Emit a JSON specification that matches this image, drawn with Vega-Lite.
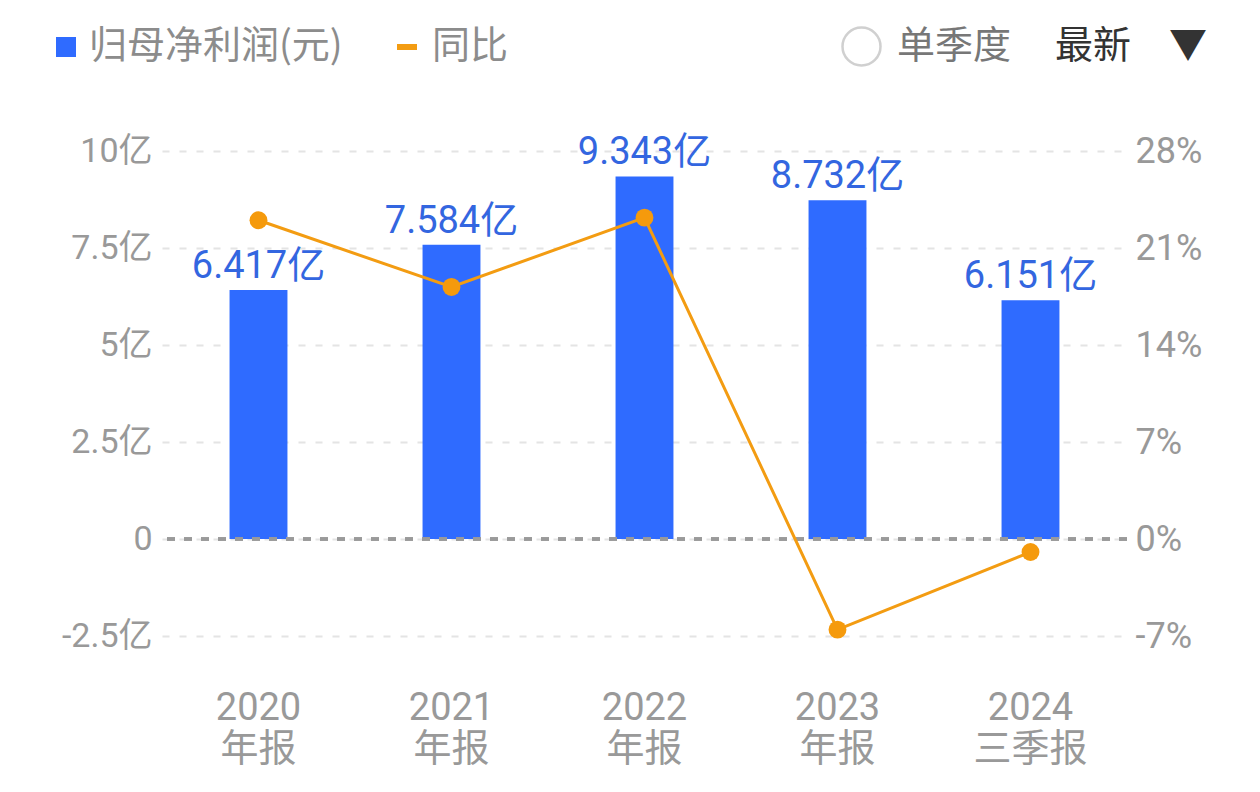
{
  "$schema": "https://vega.github.io/schema/vega-lite/v6.json",
  "width": 965,
  "height": 485,
  "autosize": "none",
  "padding": {"left": 162, "top": 151, "right": 133, "bottom": 156},
  "background": "white",
  "config": {
    "font": "Roboto, Noto Sans CJK SC",
    "view": {"stroke": null},
    "legend": {"padding": 0, "labelLimit": 500}
  },
  "title": {
    "text": "最新　▼",
    "anchor": "end",
    "orient": "top",
    "frame": "group",
    "dx": 80,
    "offset": -40,
    "fontSize": 38,
    "fontWeight": "normal",
    "color": "#333333",
    "font": "Noto Sans CJK SC"
  },
  "data": {
    "values": [
      {"period": "2020年报", "profit": 6.417, "yoy": 23.0},
      {"period": "2021年报", "profit": 7.584, "yoy": 18.19},
      {"period": "2022年报", "profit": 9.343, "yoy": 23.19},
      {"period": "2023年报", "profit": 8.732, "yoy": -6.54},
      {"period": "2024三季报", "profit": 6.151, "yoy": -0.94}
    ]
  },
  "layer": [
    {
      "layer": [
        {
          "mark": {"type": "bar", "color": "#2F6BFF"},
          "encoding": {
            "x": {
              "field": "period",
              "type": "ordinal",
              "sort": null,
              "scale": {"paddingInner": 0.7, "paddingOuter": 0.35},
              "axis": {
                "title": null,
                "domain": false,
                "ticks": false,
                "labelAngle": 0,
                "labelExpr": "[slice(datum.label, 0, 4), slice(datum.label, 4)]",
                "labelFontSize": 38,
                "labelLineHeight": 41,
                "labelColor": "#999999",
                "labelPadding": 53,
                "labelFont": "Roboto, Noto Sans CJK SC"
              }
            },
            "y": {
              "field": "profit",
              "type": "quantitative",
              "scale": {"domain": [-2.5, 10], "nice": false, "zero": false},
              "axis": {
                "title": null,
                "domain": false,
                "ticks": false,
                "values": [-2.5, 0, 2.5, 5, 7.5, 10],
                "labelExpr": "datum.value == 0 ? '0' : datum.value + '亿'",
                "labelFontSize": 34,
                "labelColor": "#999999",
                "labelPadding": 10,
                "grid": true,
                "gridColor": "#e4e4e4",
                "gridWidth": 2,
                "gridDash": [7, 10]
              }
            },
            "fill": {
              "datum": "归母净利润(元)",
              "type": "nominal",
              "scale": {"range": ["#2F6BFF"]},
              "legend": {
                "title": null,
                "orient": "none",
                "legendX": -115,
                "legendY": -123,
                "direction": "horizontal",
                "symbolType": "square",
                "symbolSize": 400,
                "symbolStrokeWidth": 0,
                "labelFontSize": 38,
                "labelColor": "#8c8c8c",
                "labelFont": "Noto Sans CJK SC",
                "labelOffset": 4
              }
            }
          }
        },
        {
          "transform": [{"calculate": "format(datum.profit, '.3f') + '亿'", "as": "lbl"}],
          "mark": {"type": "text", "dy": -12, "baseline": "alphabetic", "fontSize": 38, "color": "#3366E0"},
          "encoding": {
            "x": {"field": "period", "type": "ordinal", "sort": null},
            "y": {"field": "profit", "type": "quantitative"},
            "text": {"field": "lbl", "type": "nominal"}
          }
        },
        {
          "mark": {"type": "rule", "color": "#9a9a9a", "strokeWidth": 3, "strokeDash": [8, 9]},
          "encoding": {"y": {"datum": 0}}
        },
        {
          "mark": {"type": "point", "opacity": 0, "color": "#d0d0d0", "strokeWidth": 2.5},
          "encoding": {
            "x": {"field": "period", "type": "ordinal", "sort": null},
            "y": {"field": "profit", "type": "quantitative"},
            "shape": {
              "datum": "单季度",
              "type": "nominal",
              "scale": {"range": ["circle"]},
              "legend": {
                "title": null,
                "orient": "none",
                "legendX": 679,
                "legendY": -125,
                "symbolSize": 1444,
                "symbolStrokeColor": "#d0d0d0",
                "symbolFillColor": "white",
                "symbolStrokeWidth": 2.5,
                "labelFontSize": 38,
                "labelColor": "#777777",
                "labelFont": "Noto Sans CJK SC",
                "labelOffset": 15,
                "encode": {
                  "symbols": {
                    "update": {
                      "opacity": {"value": 1},
                      "fill": {"value": "white"},
                      "fillOpacity": {"value": 1},
                      "stroke": {"value": "#d0d0d0"},
                      "strokeWidth": {"value": 2.5}
                    }
                  }
                }
              }
            }
          }
        }
      ]
    },
    {
      "layer": [
        {
          "mark": {"type": "line", "strokeWidth": 3},
          "encoding": {
            "x": {"field": "period", "type": "ordinal", "sort": null},
            "y": {
              "field": "yoy",
              "type": "quantitative",
              "scale": {"domain": [-7, 28], "nice": false, "zero": false},
              "axis": {
                "orient": "right",
                "title": null,
                "domain": false,
                "ticks": false,
                "grid": false,
                "values": [-7, 0, 7, 14, 21, 28],
                "labelExpr": "datum.value + '%'",
                "labelFontSize": 36,
                "labelColor": "#999999",
                "labelPadding": 8
              }
            },
            "stroke": {
              "datum": "同比",
              "type": "nominal",
              "scale": {"range": ["#F39C12"]},
              "legend": {
                "title": null,
                "orient": "none",
                "legendX": 226,
                "legendY": -123,
                "symbolType": "stroke",
                "symbolSize": 400,
                "symbolStrokeWidth": 6,
                "labelFontSize": 38,
                "labelColor": "#8c8c8c",
                "labelFont": "Noto Sans CJK SC",
                "labelOffset": 6
              }
            }
          }
        },
        {
          "mark": {"type": "point", "filled": true, "size": 320, "color": "#F59A0C", "opacity": 1},
          "encoding": {
            "x": {"field": "period", "type": "ordinal", "sort": null},
            "y": {"field": "yoy", "type": "quantitative"}
          }
        }
      ]
    }
  ],
  "resolve": {"scale": {"y": "independent"}}
}
